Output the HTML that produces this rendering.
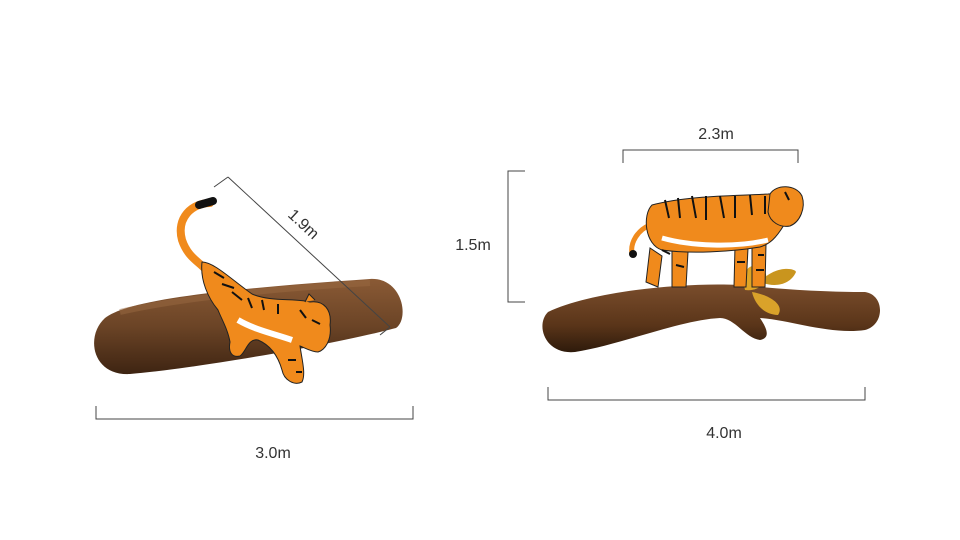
<!DOCTYPE html>
<html>
<head>
<meta charset="utf-8">
<style>
html,body{margin:0;padding:0;background:#fff;}
svg{display:block;}
text{font-family:"Liberation Sans",sans-serif;font-size:16px;fill:#333;}
</style>
</head>
<body>
<svg width="960" height="540" viewBox="0 0 960 540">
<defs>
<linearGradient id="logg" x1="0" y1="0" x2="0" y2="1">
<stop offset="0" stop-color="#8a5a35"/><stop offset="0.5" stop-color="#6b4426"/><stop offset="1" stop-color="#3e2412"/>
</linearGradient>
<linearGradient id="brg" x1="0" y1="0" x2="0" y2="1">
<stop offset="0" stop-color="#7a4d2c"/><stop offset="0.6" stop-color="#5a3519"/><stop offset="1" stop-color="#2e1a0b"/>
</linearGradient>
</defs>

<!-- LEFT -->
<g>
<path d="M105,318 C130,298 240,288 370,279 C402,277 410,318 396,328 C330,345 200,368 130,374 C92,376 85,336 105,318 Z" fill="url(#logg)"/>
<path d="M120,312 C180,298 280,288 370,283" stroke="#9a6a42" stroke-width="6" fill="none" opacity="0.5"/>
</g>
<g>
<path d="M210,203 C192,203 176,218 182,240 C188,258 200,262 206,270" stroke="#f08a1c" stroke-width="8" fill="none" stroke-linecap="round"/>
<path d="M199,205 L213,201" stroke="#111" stroke-width="8" stroke-linecap="round"/>
<path d="M202,262 C214,262 232,280 252,294 C270,302 296,298 310,302 C324,300 332,310 330,325 C332,340 325,350 318,352 C312,352 305,348 300,346 C302,360 306,374 302,382 C294,386 284,380 282,370 C278,356 270,345 258,340 C248,338 246,352 240,356 C232,358 228,352 230,342 C228,330 222,320 218,310 C208,298 200,280 202,262 Z" fill="#f08a1c" stroke="#222" stroke-width="1"/>
<path d="M238,320 C255,330 275,334 292,340" stroke="#fff" stroke-width="6" fill="none"/>
<g stroke="#111" stroke-width="2" fill="none">
<path d="M214,272 l10,6 M222,284 l12,4 M232,292 l10,8 M248,298 l4,10 M262,300 l2,10 M278,304 l0,10 M300,310 l6,8 M312,320 l8,4 M288,360 l8,0 M296,372 l6,0"/>
</g>
<path d="M305,302 l4,-8 l6,6" fill="#f08a1c" stroke="#222" stroke-width="1"/>
</g>
<g>
<line x1="214" y1="187" x2="228" y2="177" stroke="#444" stroke-width="1"/>
<line x1="228" y1="177" x2="390" y2="327" stroke="#444" stroke-width="1"/>
<line x1="390" y1="327" x2="380" y2="335" stroke="#444" stroke-width="1"/>
<text x="300" y="228" transform="rotate(43 300 228)" text-anchor="middle">1.9m</text>
</g>
<g>
<path d="M96,406 L96,419 L413,419 L413,406" stroke="#444" stroke-width="1" fill="none"/>
<text x="273" y="458" text-anchor="middle">3.0m</text>
</g>

<!-- RIGHT -->
<g>
<path d="M548,312 C590,292 680,282 740,285 C790,290 830,292 865,292 C885,295 885,325 865,330 C830,335 790,320 760,318 C768,330 770,338 760,340 C745,338 735,318 720,318 C680,320 620,345 575,352 C545,355 535,325 548,312 Z" fill="url(#brg)"/>
</g>
<g>
<path d="M745,290 C740,270 752,258 765,272 C770,280 760,292 745,290 Z" fill="#e0a526"/>
<path d="M760,282 C775,265 795,268 796,272 C790,285 775,288 760,282 Z" fill="#c9951e"/>
<path d="M752,292 C770,295 785,305 778,315 C765,315 755,305 752,292 Z" fill="#d9a22a"/>
</g>
<g>
<path d="M650,225 C638,230 630,242 632,254" stroke="#f08a1c" stroke-width="5" fill="none"/>
<circle cx="633" cy="254" r="4" fill="#111"/>
<path d="M650,248 L646,282 L658,287 L662,256 Z" fill="#f08a1c" stroke="#222" stroke-width="1"/>
<path d="M672,250 L672,287 L686,287 L688,252 Z" fill="#f08a1c" stroke="#222" stroke-width="1"/>
<path d="M735,246 L734,287 L746,287 L748,248 Z" fill="#f08a1c" stroke="#222" stroke-width="1"/>
<path d="M752,244 L752,287 L765,287 L766,244 Z" fill="#f08a1c" stroke="#222" stroke-width="1"/>
<path d="M652,205 C690,195 740,196 768,194 C785,192 790,210 784,225 C776,238 770,244 760,247 C730,252 690,254 662,250 C645,245 642,215 652,205 Z" fill="#f08a1c" stroke="#222" stroke-width="1"/>
<path d="M770,194 C776,184 796,184 802,196 C806,208 800,222 790,226 C780,228 770,222 768,212 Z" fill="#f08a1c" stroke="#222" stroke-width="1"/>
<path d="M662,238 C690,246 735,248 768,240" stroke="#fff" stroke-width="5" fill="none"/>
<g stroke="#111" stroke-width="2" fill="none">
<path d="M665,200 l4,18 M678,198 l2,20 M692,196 l4,22 M706,196 l0,24 M720,196 l4,22 M735,196 l0,22 M750,195 l2,20 M765,196 l0,18 M785,192 l4,8 M662,250 l8,4 M758,255 l6,0 M756,270 l8,0 M676,265 l8,2 M737,262 l8,0"/>
</g>
</g>
<g>
<path d="M623,163 L623,150 L798,150 L798,163" stroke="#444" stroke-width="1" fill="none"/>
<text x="716" y="139" text-anchor="middle">2.3m</text>
</g>
<g>
<path d="M525,171 L508,171 L508,302 L525,302" stroke="#444" stroke-width="1" fill="none"/>
<text x="473" y="250" text-anchor="middle">1.5m</text>
</g>
<g>
<path d="M548,387 L548,400 L865,400 L865,387" stroke="#444" stroke-width="1" fill="none"/>
<text x="724" y="438" text-anchor="middle">4.0m</text>
</g>
</svg>
</body>
</html>
